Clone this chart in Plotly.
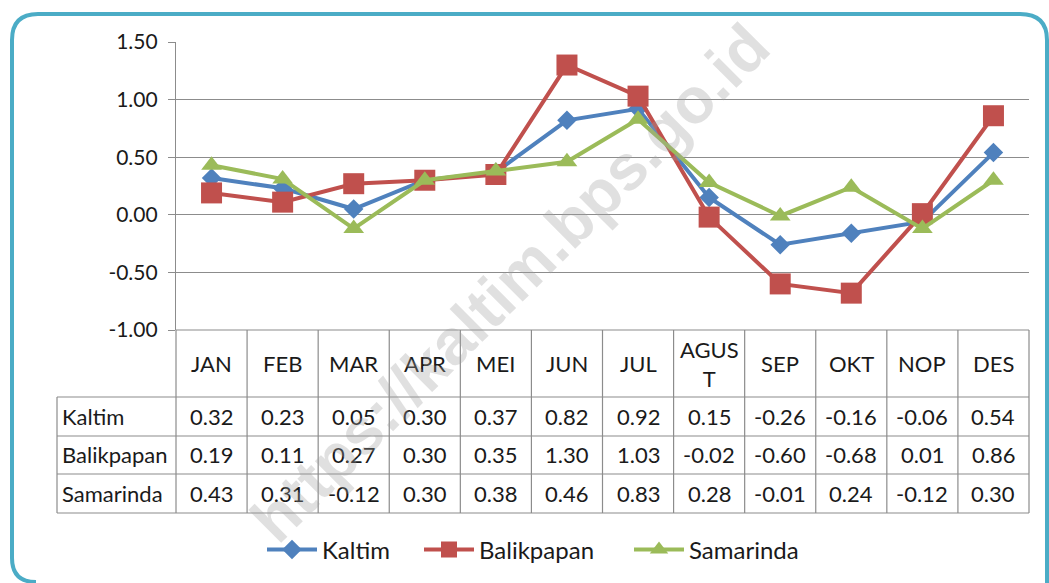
import plotly.graph_objects as go

W, H = 1049, 583

months = ["JAN", "FEB", "MAR", "APR", "MEI", "JUN", "JUL", "AGUST", "SEP", "OKT", "NOP", "DES"]
month_labels = ["JAN", "FEB", "MAR", "APR", "MEI", "JUN", "JUL", "AGUS<br>T", "SEP", "OKT", "NOP", "DES"]
series_names = ["Kaltim", "Balikpapan", "Samarinda"]
kaltim = [0.32, 0.23, 0.05, 0.30, 0.37, 0.82, 0.92, 0.15, -0.26, -0.16, -0.06, 0.54]
balikpapan = [0.19, 0.11, 0.27, 0.30, 0.35, 1.30, 1.03, -0.02, -0.60, -0.68, 0.01, 0.86]
samarinda = [0.43, 0.31, -0.12, 0.30, 0.38, 0.46, 0.83, 0.28, -0.01, 0.24, -0.12, 0.30]
y_ticks = [-1.0, -0.5, 0.0, 0.5, 1.0, 1.5]

colors = ["#4F81BD", "#C0504D", "#9BBB59"]
symbols = ["diamond", "square", "triangle-up"]
sizes = [15, 21, 18]
FONT = "Lato"
FS = 22

def X(px):
    return px / W

def Y(py):
    return 1 - py / H

# plot geometry (pixels)
L, R, T, B = 176, 1029, 42, 330
row_y = [330, 397, 436, 474, 513]
label_left = 57
colw = (R - L) / 12
legend_starts = [262, 419, 629]
legend_keys = ["legend", "legend2", "legend3"]

fig = go.Figure()
for name, vals, c, s, sz, lk in zip(series_names, [kaltim, balikpapan, samarinda], colors, symbols, sizes, legend_keys):
    fig.add_trace(go.Scatter(
        x=months, y=vals, name=name, mode="lines+markers",
        line=dict(color=c, width=4),
        marker=dict(symbol=s, size=sz, color=c),
        legend=lk, showlegend=True,
    ))

shapes = []
gray = "#8C8C8C"
# frame
shapes.append(dict(
    type="path", xref="paper", yref="paper",
    path=(f"M {X(36)},{Y(582)} Q {X(12)},{Y(582)} {X(12)},{Y(558)} L {X(12)},{Y(40)} "
          f"Q {X(12)},{Y(14)} {X(38)},{Y(14)} "
          f"L {X(1020)},{Y(14)} Q {X(1047)},{Y(14)} {X(1047)},{Y(40)} L {X(1047)},{Y(620)}"),
    line=dict(color="#4BACC6", width=4),
))
# table horizontal lines
for i, ry in enumerate(row_y):
    x0 = L if i == 0 else label_left
    shapes.append(dict(type="line", xref="paper", yref="paper",
                       x0=X(x0), x1=X(R), y0=Y(ry), y1=Y(ry), line=dict(color=gray, width=1.2)))
# vertical lines
for j in range(13):
    xx = L + j * colw
    shapes.append(dict(type="line", xref="paper", yref="paper",
                       x0=X(xx), x1=X(xx), y0=Y(row_y[0]), y1=Y(row_y[-1]), line=dict(color=gray, width=1.2)))
shapes.append(dict(type="line", xref="paper", yref="paper",
                   x0=X(label_left), x1=X(label_left), y0=Y(row_y[1]), y1=Y(row_y[-1]), line=dict(color=gray, width=1.2)))

annotations = []
txtcol = "#1A1A1A"
for j, lab in enumerate(month_labels):
    annotations.append(dict(xref="paper", yref="paper", x=X(L + (j + 0.5) * colw), y=Y((row_y[0] + row_y[1]) / 2),
                            text=lab, showarrow=False, xanchor="center", yanchor="middle",
                            font=dict(family=FONT, size=FS, color=txtcol)))
for r, (name, vals) in enumerate(zip(series_names, [kaltim, balikpapan, samarinda])):
    cy = (row_y[r + 1] + row_y[r + 2]) / 2
    annotations.append(dict(xref="paper", yref="paper", x=X(label_left + 3), y=Y(cy),
                            text=name, showarrow=False, xanchor="left", yanchor="middle",
                            font=dict(family=FONT, size=FS, color=txtcol)))
    for j, v in enumerate(vals):
        annotations.append(dict(xref="paper", yref="paper", x=X(L + (j + 0.5) * colw), y=Y(cy),
                                text=f"{v:.2f}", showarrow=False, xanchor="center", yanchor="middle",
                                font=dict(family=FONT, size=FS, color=txtcol)))
# watermark
annotations.append(dict(xref="paper", yref="paper", x=X(510), y=Y(283), text="https://kaltim.bps.go.id",
                        showarrow=False, textangle=-45, xanchor="center", yanchor="middle",
                        font=dict(family="Liberation Sans", size=64, color="rgba(160,160,160,0.32)", weight="bold")))

legend_common = dict(orientation="h", xanchor="left", y=Y(550), yanchor="middle",
                     font=dict(family=FONT, size=24, color=txtcol), itemwidth=50, bgcolor="rgba(0,0,0,0)")

fig.update_layout(
    width=W, height=H, showlegend=True,
    margin=dict(l=0, r=0, t=0, b=0, pad=0, autoexpand=False),
    paper_bgcolor="white", plot_bgcolor="white",
    font=dict(family=FONT, size=FS, color=txtcol),
    xaxis=dict(domain=[X(L), X(R)], type="category", range=[-0.5, 11.5], automargin=False,
               showticklabels=False, showgrid=False, zeroline=False, showline=False, ticks=""),
    yaxis=dict(domain=[Y(B), Y(T)], range=[-1.0, 1.5], tickvals=y_ticks, automargin=False,
               ticktext=[f"{v:.2f}" for v in y_ticks],
               showgrid=True, gridcolor=gray, gridwidth=1.2, zeroline=False,
               showline=True, linecolor=gray, linewidth=1.2,
               ticks="outside", ticklen=7, tickcolor=gray, ticklabelstandoff=6,
               tickfont=dict(family=FONT, size=21, color=txtcol)),
    legend=dict(x=X(legend_starts[0]), **legend_common),
    legend2=dict(x=X(legend_starts[1]), **legend_common),
    legend3=dict(x=X(legend_starts[2]), **legend_common),
    shapes=shapes, annotations=annotations,
)

post = ("document.documentElement.style.margin='0';document.body.style.margin='0';"
        "document.body.style.overflow='hidden';document.documentElement.style.overflow='hidden';"
        "var gd=document.getElementById('{plot_id}');gd.style.position='fixed';"
        "gd.style.top='0px';gd.style.left='0px';")
fig.write_html("out.html", config={"displayModeBar": False}, post_script=post)
